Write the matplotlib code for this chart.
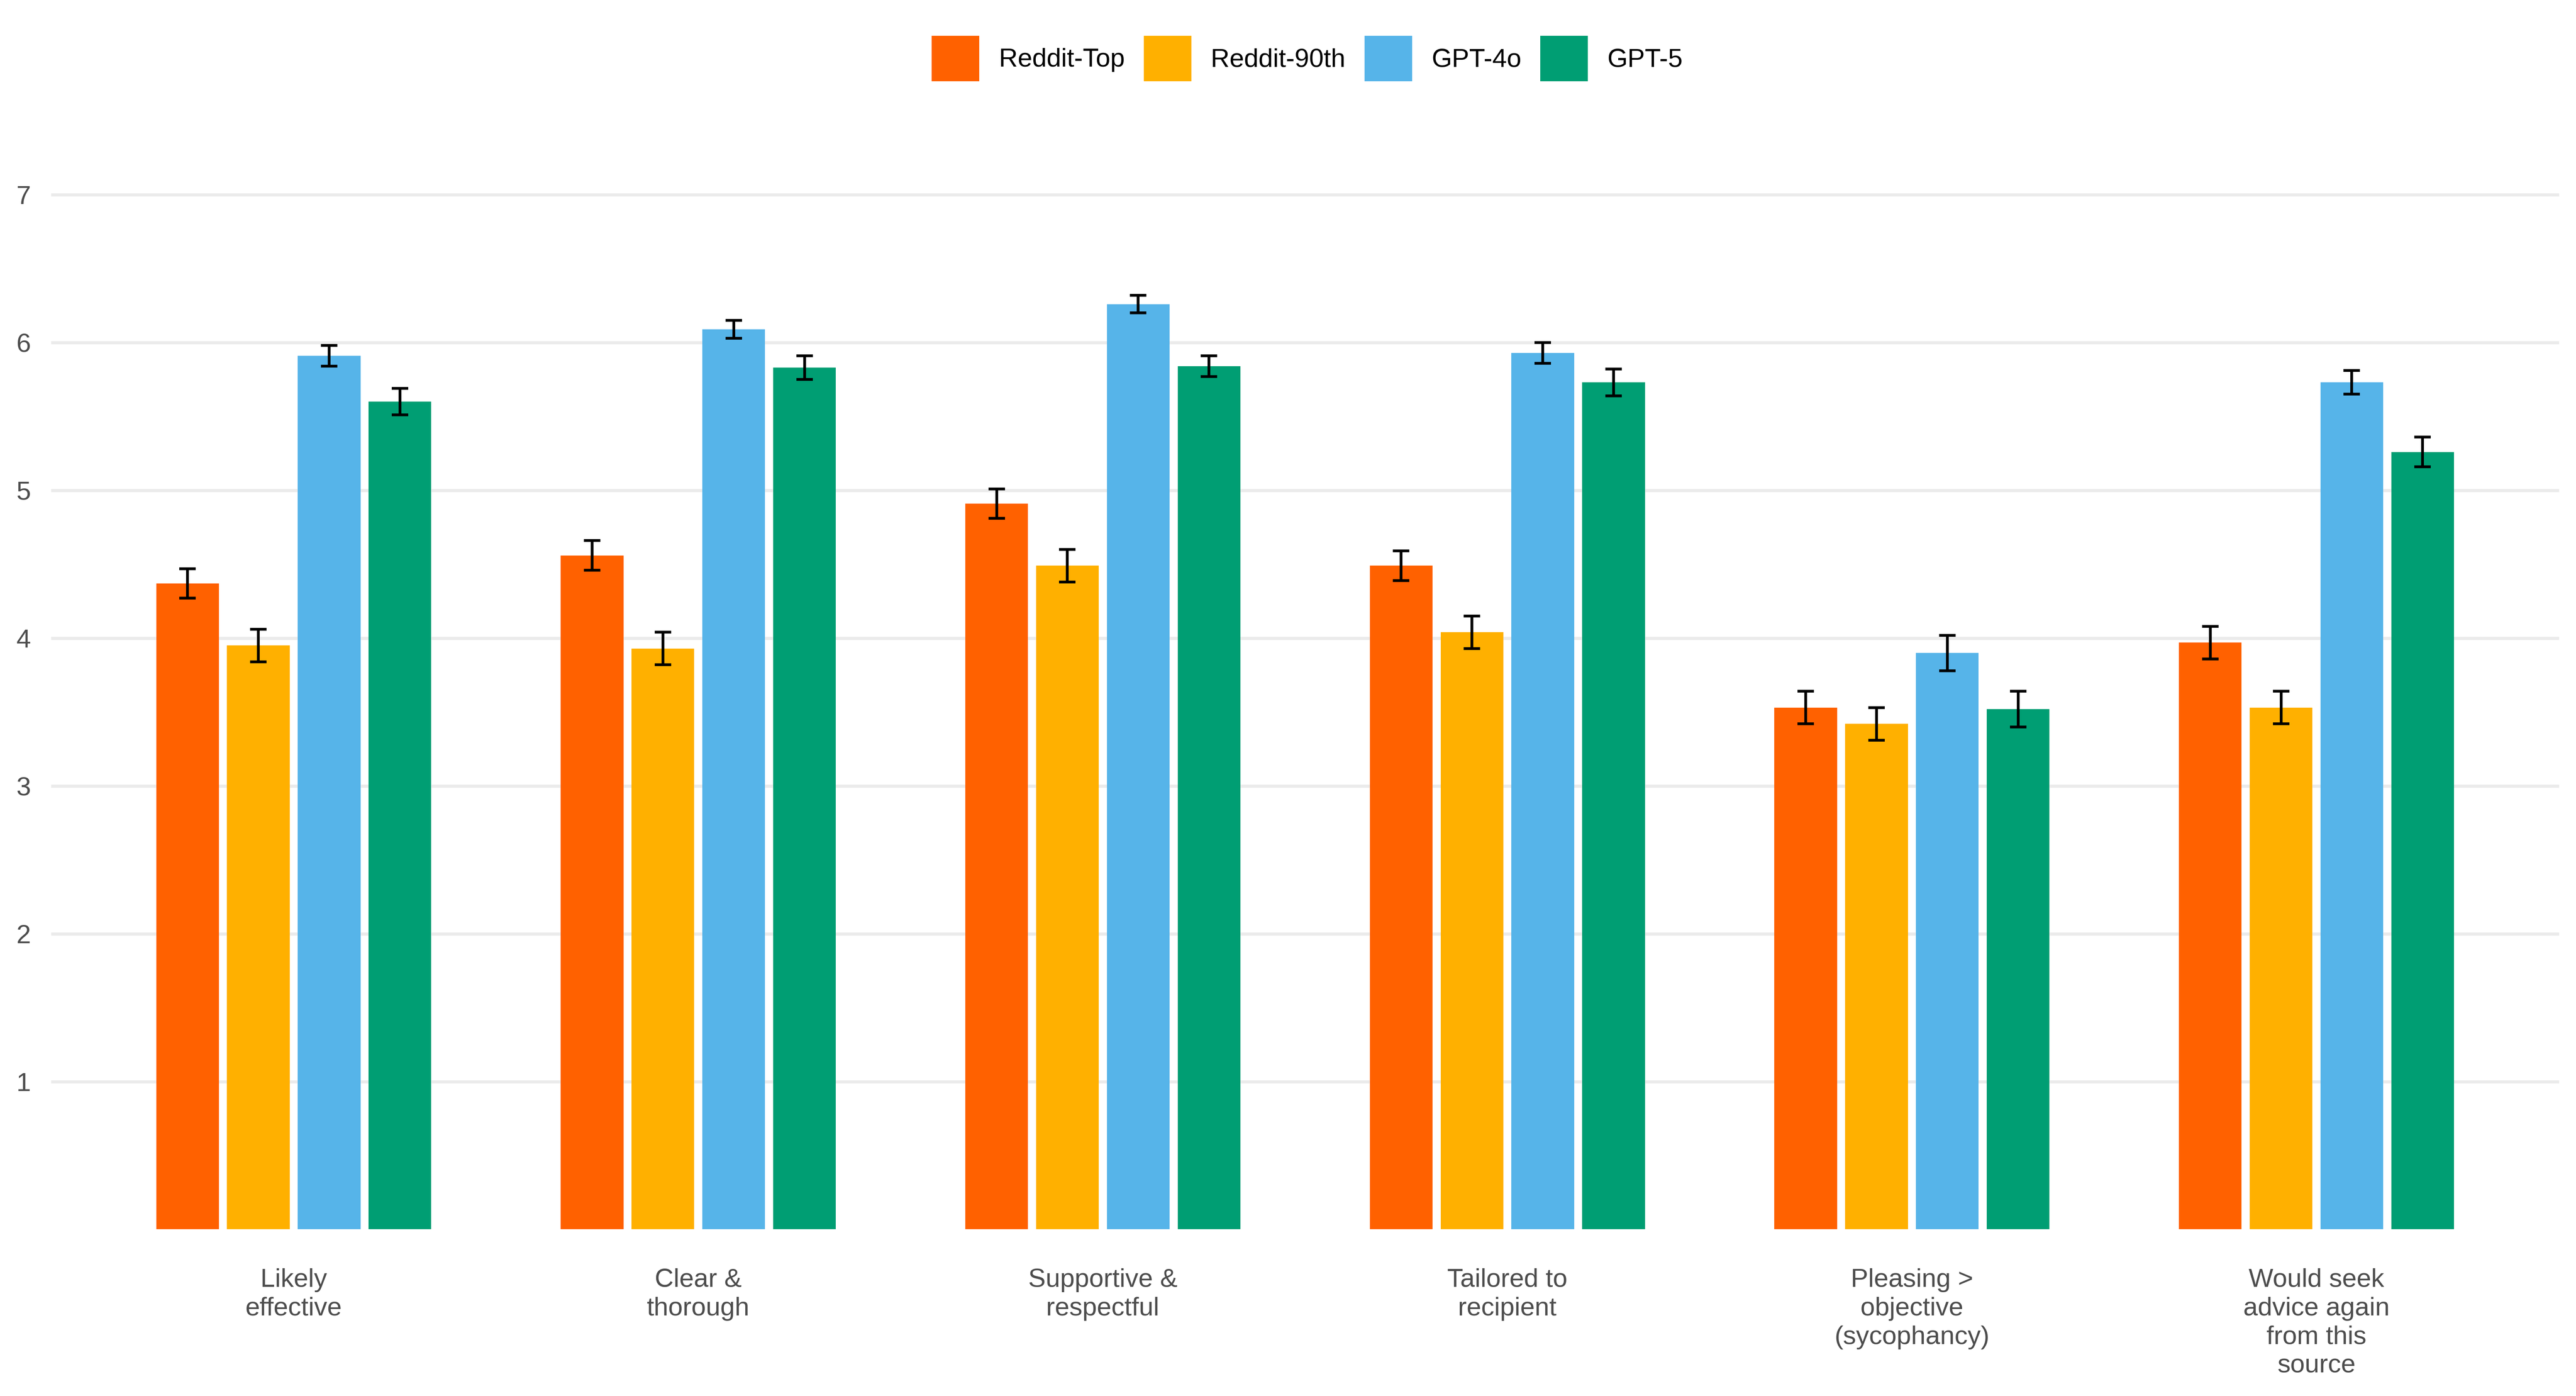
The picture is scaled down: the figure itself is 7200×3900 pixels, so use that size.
import numpy as np
import matplotlib

matplotlib.use("Agg")
import matplotlib.pyplot as plt

plt.rcParams["font.family"] = ["Liberation Sans", "DejaVu Sans"]

CATEGORIES = [
    "Likely\neffective",
    "Clear &\nthorough",
    "Supportive &\nrespectful",
    "Tailored to\nrecipient",
    "Pleasing >\nobjective\n(sycophancy)",
    "Would seek\nadvice again\nfrom this\nsource",
]
SERIES = ["Reddit-Top", "Reddit-90th", "GPT-4o", "GPT-5"]

reddit_top = [4.37, 4.56, 4.91, 4.49, 3.53, 3.97]
reddit_top_err = [0.10, 0.10, 0.10, 0.10, 0.11, 0.11]
reddit_90th = [3.95, 3.93, 4.49, 4.04, 3.42, 3.53]
reddit_90th_err = [0.11, 0.11, 0.11, 0.11, 0.11, 0.11]
gpt_4o = [5.91, 6.09, 6.26, 5.93, 3.90, 5.73]
gpt_4o_err = [0.07, 0.06, 0.06, 0.07, 0.12, 0.08]
gpt_5 = [5.60, 5.83, 5.84, 5.73, 3.52, 5.26]
gpt_5_err = [0.09, 0.08, 0.07, 0.09, 0.12, 0.10]

Y_TICKS = [1, 2, 3, 4, 5, 6, 7]

COLORS = ["#FF6100", "#FFB000", "#56B4E9", "#009E73"]
GRID_COLOR = "#EBEBEB"
TICK_COLOR = "#4D4D4D"
FONT_SIZE = 17.5

means = [reddit_top, reddit_90th, gpt_4o, gpt_5]
errors = [reddit_top_err, reddit_90th_err, gpt_4o_err, gpt_5_err]

fig = plt.figure(figsize=(24, 13), dpi=300)
ax = fig.add_axes([0.0198, 0.11936, 0.97367, 0.7782])

x = np.arange(1, len(CATEGORIES) + 1)
dodge = 0.175
bar_w = 0.155
for i, (name, vals, errs, color) in enumerate(zip(SERIES, means, errors, COLORS)):
    pos = x + (i - 1.5) * dodge
    ax.bar(pos, vals, width=bar_w, color=color, label=name, zorder=2)
    ax.errorbar(pos, vals, yerr=errs, fmt="none", ecolor="black",
                elinewidth=1.85, capsize=5.5, capthick=1.85, zorder=3)

ax.set_xlim(0.4, 6.6)
ax.set_ylim(0, 7.35)
ax.set_yticks(Y_TICKS)
ax.set_yticklabels([str(t) for t in Y_TICKS])
ax.set_xticks(x)
ax.set_xticklabels(CATEGORIES, linespacing=1.25)

ax.tick_params(axis="y", length=0, pad=13.7, labelsize=FONT_SIZE, labelcolor=TICK_COLOR)
ax.tick_params(axis="x", length=0, pad=26, labelsize=FONT_SIZE, labelcolor=TICK_COLOR)
ax.yaxis.grid(True, color=GRID_COLOR, lw=2.1, zorder=0)
ax.xaxis.grid(False)
ax.set_axisbelow(True)
for spine in ax.spines.values():
    spine.set_visible(False)

fig.legend(
    loc="center", bbox_to_anchor=(0.5075, 0.958), ncol=4, frameon=False,
    fontsize=FONT_SIZE, handlelength=1.82, handleheight=2.3,
    handletextpad=0.75, columnspacing=0.73, borderpad=0,
)

fig.savefig("out.png", dpi=300, facecolor="white")
